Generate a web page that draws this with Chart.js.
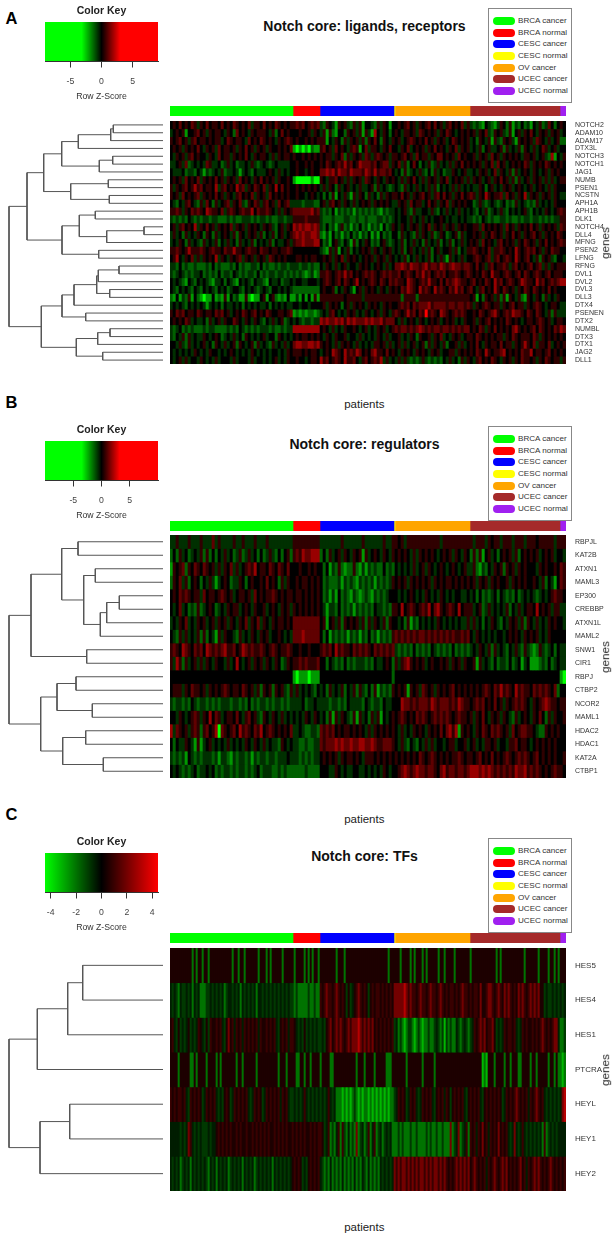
<!DOCTYPE html>
<html>
<head>
<meta charset="utf-8">
<script src="https://cdn.jsdelivr.net/npm/chart.js@4/dist/chart.umd.min.js"></script>
<style>
  html, body { margin: 0; padding: 0; background: #fff; }
  #page { position: relative; width: 615px; height: 1240px; overflow: hidden; font-family: "Liberation Sans", Arial, sans-serif; }
  canvas { position: absolute; display: block; }
  .txt { position: absolute; white-space: nowrap; transform: translate(-50%, -50%); line-height: 1; }
  .panel-tag { font-weight: bold; font-size: 16.5px; color: #000; transform: translate(0, -50%); }
  .main { font-weight: bold; font-size: 14px; color: #111; }
  .xlab { font-size: 11.5px; color: #222; }
  .ylab { font-size: 11.7px; color: #222; transform: translate(-50%, -50%) rotate(-90deg); }
  .legend { position: absolute; box-sizing: border-box; border: 1.5px solid #888; background: #fff; }
  .legend div { position: absolute; left: 29px; font-size: 8.1px; line-height: 1; color: #333; white-space: nowrap; transform: translateY(-50%); }
  .legend span { position: absolute; left: -25px; top: 50%; width: 22px; height: 8px; margin-top: -4px; border-radius: 4px; }
</style>
</head>
<body>
<div id="page"></div>
<script>
// side colour bar / legend
const groupNames = ['BRCA cancer', 'BRCA normal', 'CESC cancer', 'CESC normal', 'OV cancer', 'UCEC cancer', 'UCEC normal'];
const groupColors = ['#00ff00', '#ff0000', '#0000ff', '#ffff00', '#ffa500', '#a52a2a', '#a020f0'];
const groupSizes = [123, 27, 74, 1, 75, 90, 6];

const genesA = ['NOTCH2','ADAM10','ADAM17','DTX3L','NOTCH3','NOTCH1','JAG1','NUMB','PSEN1','NCSTN','APH1A','APH1B','DLK1','NOTCH4','DLL4','MFNG','PSEN2','LFNG','RFNG','DVL1','DVL2','DVL3','DLL3','DTX4','PSENEN','DTX2','NUMBL','DTX3','DTX1','JAG2','DLL1'];
const genesB = ['RBPJL','KAT2B','ATXN1','MAML3','EP300','CREBBP','ATXN1L','MAML2','SNW1','CIR1','RBPJ','CTBP2','NCOR2','MAML1','HDAC2','HDAC1','KAT2A','CTBP1'];
const genesC = ['HES5','HES4','HES1','PTCRA','HEYL','HEY1','HEY2'];

// dendrograms: [height, left, right], a number is a row
const treeA = [154,[136,[119.3,[101.3,[84.7,[52.3,[49.7,0,1],2],3],[63.7,[50.3,4,5],6]],[92.3,[54.7,7,8],[53.7,9,10]]],[101,[83.7,[67.7,11,12],[56.3,[19,13,14],15]],[64.3,16,17]]],[121.7,[101,[89,[66.3,[64.7,[44,18,19],20],[53.3,21,22]],23],[77.3,24,25]],[86.7,[65.3,[53,26,27],28],[60.3,29,30]]]];
const treeB = [154,[132,[101.3,[85,0,1],[79.3,[67.7,2,3],[62.7,[56.3,[43.7,4,5],6],7]]],[76.3,8,9]],[122.3,[106,[87,10,11],[70.7,12,13]],[100.3,[77.3,14,15],[59.7,16,17]]]];
const treeC = [154,[125.7,[95.3,[80.3,0,1],2],3],[123,[93.3,4,5],6]];

// heat levels per patient block: 1 (strong green) .. a 5 b .. 9 (strong red), groups split by |
const blocksAB = [41, 9, 25, 25, 30, 2];
const blocksC = [61, 14, 37, 38, 45, 3];

const heatA = [
'5657565764 6575665756 5765657466 57565765656|676756767|4365426564 3646255436 46525|5656756465 6757564675 65746|4343254324 6536243534 2546347535|65',
'4565625567 5646566546 5375654656 66546357565|556556465|4626325536 5646264285 46535|6546656476 5656465765 45656|5646574365 6436256465 7546564656|45',
'6567564675 6656566457 6566547565 76565465676|565565656|6625465364 6564636575 36546|5645676565 7564656457 65656|4536546264 3656426565 6476546456|33',
'5656465657 5465647566 5646575646 56465565657|212121322|6756475654 6762574665 46575|5465745656 4657565465 74656|4546356445 6364546365 4645764564|55',
'5465646756 5546547566 4656575465 66546465665|655656565|6566465736 4656476467 65646|6567564756 6465775656 47565|5646564756 4656565466 5645643825|46',
'4456473454 5476445346 4534454643 45434544445|565565655|6576567686 7568777675 67746|5746357535 4634645464 65756|5656465747 5645656576 4656576565|65',
'5444534435 4243454634 4542454354 44565464545|565545655|7787868776 8777687686 77675|4536345464 3536453446 54564|4546564574 6546364565 4654564656|55',
'5656475657 4656575646 5647565465 75656465565|211111211|6546675646 4656476546 54656|5464657546 4656465745 65646|4656456465 7564636456 4656464645|66',
'6465675686 7566584675 6586746576 57465857565|565656565|4646536456 4546445636 45434|5436454645 4646354546 46454|5446535645 4656456545 6456546465|55',
'6564756567 4656575646 5467565746 56475656565|565545654|5353625464 2646536453 64656|6575646567 5646757564 65756|7646586566 7475646584 6564656465|44',
'5435467543 6475364567 4657436576 46756475674|444344433|5646756465 4645656465 65654|4656475664 5756465746 56565|5346434543 4534364543 4364545465|55',
'6676465767 6587665746 7656766857 66765464656|777777867|4343524343 4243434343 24344|5456436445 5464354645 46454|5435463454 6435454564 3545465456|76',
'4343435434 3443443334 3433444343 44343344344|666676666|4333433344 3343343334 43434|5455464546 4545565454 45454|4343543433 4434334344 3443434344|66',
'5646756584 6575646565 7465646565 46564356465|878788787|4353424634 2435342434 25346|5465465646 5746564656 46565|5664756565 6475646565 7564656564|76',
'4645364546 5365364565 4636546564 63546356456|787877887|3242534243 5342435242 53435|5364543646 5463465345 63645|5656465765 6465756465 6756465657|65',
'4546536454 3645463546 4536454635 45463544564|677877788|5342564354 2635465343 56434|5463546453 6454635463 54645|6564756546 7565646576 5646575656|76',
'6676568666 7656766576 6866567665 76656656676|555555555|4326462546 3545656465 46564|5463564546 4635645564 63546|6765657466 7656586567 6756465766|55',
'5685465746 4656584654 6567465646 56476565655|566565665|5656465746 5654565646 56465|4546354645 4635464264 54645|5676567467 5676586567 5463656435|54',
'4435343343 3343534333 4353433443 53433434434|443443433|5465464564 5546565456 54645|7787687767 8677687678 77677|6575646756 6764675656 7567464656|66',
'4345434344 5343435344 3543434435 34344344343|434323423|6676567686 7565676765 67676|6756765768 6756767566 76567|6565765866 5676567576 5676567566|65',
'5454325435 4543244535 4325454354 43254453445|455445554|5676567576 5685656765 76576|7665876567 6866575767 87665|6756576586 7567656876 6586756767|88',
'5435454354 3545435453 4554354543 45435545454|333333333|5655635465 4256465654 65465|6576876586 7658676576 86756|7546756586 5765646576 5765657565|55',
'3252436253 2122523262 5342262122 56256323252|242525262|6666666656 6666466666 66666|6636666366 6666666666 66666|5625365646 3626546326 5465364546|55',
'4545435454 5424545354 4545354545 44535454544|554554555|5646565356 4656546565 46565|5676757677 7867777677 67767|6465676566 4656756646 5676545665|44',
'6576756657 6566576756 4565765675 65765566567|232323323|4546754546 5645465456 46546|7656867576 9676587656 76765|5657656786 5676877657 6576546364|44',
'5656576454 4536456465 5765465465 43546456345|454344344|8787787868 7877787877 86777|5464565465 4565645656 45465|5646567565 6576565456 6567656456|65',
'4345343433 3434433334 3435434343 44434334344|888888888|5654645465 5654564546 56456|7677676787 6767767767 67677|5657646575 6565786565 6757656576|87',
'4354636454 4654565345 4645365454 56455365454|565665656|5465465564 5546454546 54645|5645465365 5646574546 56456|6576565656 6465765666 5764656565|65',
'5546436454 5645365464 5636545636 45436454645|788778878|6565464656 5464545466 56464|5646456456 3646546355 64645|6575465665 7566465686 5746657456|56',
'5454545465 4546554545 6545454654 54545545465|666565665|4565876586 7687565786 65756|5465654656 5465645566 46565|6576586566 7856565766 8566567565|65',
'5456464554 6545464555 4645554645 54545645465|565545665|8675676586 6754675676 84645|4646434346 4343435464 53646|5467565765 4656465766 5646576566|46'
];

const heatB = [
'4464446444 6444746444 4644644464 44644444444|666666666|4444444644 4444644444 46446|6564666666 6666646666 66666|6466646566 4666466646 6656666646|66',
'3536453454 6363535464 5346346453 53464353563|676877888|3536456465 4656264565 46546|5656546465 6565456564 65465|3636256453 5656463565 6564565645|54',
'2656736576 5765646465 7464567685 66576576575|556556565|5352436323 3632424343 35343|5454546456 4654565456 54564|4632435465 6365646565 5546565565|76',
'3657463565 3546424565 3446535655 65756536465|565665656|5343334243 4324343424 34346|5656465656 5646565665 65656|5646564656 5564656565 5654635425|76',
'5657676566 4756656765 6456656475 65667656566|566565656|5342425343 2432343243 43455|5454565454 6545465454 55445|4535343453 5434353454 5434545676|65',
'5457453436 3456534546 5664565465 56456546564|656565656|5424435343 4243434354 43436|6585676567 6857865676 58566|6456346454 5463546456 6585656466|44',
'4546574546 5645646564 6546574657 46546566565|777777777|5625646365 6564636465 46365|5453624354 5454654545 45446|4645354654 3546564636 5464546565|54',
'5436464546 3635426465 5436454654 65645565454|777877777|5352434342 4342435342 43436|7676767677 6767676767 66767|5465454545 5456565465 6564546555|55',
'6765876576 7587676786 6756876766 76567656676|556556555|6767586766 5767676576 76767|4343435343 4354343435 34343|4546546364 5435464364 3236434535|44',
'6486364564 6465465546 4585456465 64654653465|667676667|5535434353 4344434354 45653|6467865656 4565565646 56465|5626454353 4435345245 2223435345|44',
'5555555555 5555555555 5555555555 55555555555|212221222|5555555555 5555555555 55553|5555555555 5555555555 55555|5555555555 5555555555 5555555555|21',
'5666465766 5646565676 5665765646 36563656436|464545435|4536454635 4636435362 43436|5656265647 6564656567 56565|6565676576 8676586766 5767676573|55',
'4344343543 4434343444 3443435343 44343443434|444534454|4443443435 4444354344 35445|5587767677 7687677767 68766|5676756575 6465676765 4656787665|66',
'5546545676 4658576456 6575467564 36546546454|545465465|4536264654 3626453646 25456|5676565767 6567676765 67665|6465754656 4654364565 4657536465|56',
'8476564676 3675681765 6758676576 85676565657|445433443|7676756566 5656546465 65656|5464546565 4656575786 82656|5465765767 6564756776 6543365656|55',
'5354465426 2456454546 4545465465 46454436545|443343344|7677787877 8778877876 67776|5464354354 6464554566 45564|5645466564 5546675665 4565656565|55',
'4343425434 3444342443 2434434243 44344344454|443434344|5656564656 6565466656 56565|6565656576 5676565656 67656|6567565756 5676567676 5675656565|56',
'5454343453 4454534344 3434434345 34443343433|333343333|5554465454 4554454545 46545|5678767877 6776578677 67767|8887878767 6767687786 7676565676|65'
];

const heatC = [
'bbbbbbbbbb b3b3bb3bb3 bbbbbbbbbb b3bb3bb3bb bbbb3bbb3b 3bbbbb3bbbb|b3bbbb3b3b3bb3|bbbbbbbb3bbb3 bbbbbbbbbbbbbbbbbbbbb 3bb|bbb3bbbb3b3bbb3b3bbbbb3bb3bbbb3bbbbbbb|3bbbbbbbbbbbb3b3bbbbbbbbbbb3bbbbbb3bbbb3bb3b3|bbb',
'a4a43a44a4 a3a4a33344 a4a4a4a34a a4a4a3a4a4 a4a3aa4a4a 4a4a4a4a4a4|43433333433433|6b6766b676 b6b4b4ab67 6b6b4b6b66 b6b6b6b|7777787676 6b6766b676 6b676b6b66 b6b6766b|6b66b7bb67 76b676b767 6b6b7676b6 76767bb4a4 4a4a4|a4a',
'b6a4b4a4ab 4a4a6ba4b4 6bb6b6a4b7 b6a6b6a6b6 b6b6a6bb6b 6b6a4b6b6a6|6ba4a4b4a4a4a4|4a4b67b676 76b6767778 7676767b6b 6b6b6b6|4a34323443 2343233433 4a43424343 3a434a43|4a6b6767b6 67b4a4a6b6 6b6a4a6b6b b6b6b676b6 b677a|334',
'bbbb3bbbbb 33b3bbbb3b bbb3b3bbbb bbb3bb3bbb bbb3bbbbbb bbbb3bbb3bb|bb33bb3bb3bbbb|3bbbb33bbb bbbbbbbb3b bb3bbbb3bb bbb333b|bbbbbb3bbb bbbb3bbbbb 3bbbbbbbbb bbbbbbbb|bbbbbb232b bb3bbbb3bb 3bbb33bbbb 3bb3bbbbb3 bb3b3|323',
'6b6b66b6a4 6b6b6b4a6b 6b6a4a4b6b 4a6b6b6b6a 4a6b6b4a6b 6b6b6a6b6a4|4a4a4a6a4a4a4a|4a4a6a4a33 3232323432 3233232323 2323233|4a6b6b4a6b 6a4a6b6b6a 4b6b6a6b4b 6b6b6a4b|6b6b6a4b6b 6b6b6b4a6b 6b676b6b6a 6b676b6a4a 4a4a4|a78',
'aaaaa4a4a7 6a4a4a444a 4aab6b6b6b 6bb6b6bb6b b6b6b6b6b6 bb6b6b6b6bb|6b6b6b6bb6b6b6|6b4a6343a6 3643a34373 4a3463a634 a34a4a3|3343433343 3433334343 3433433373 4a734a63|6b6a6b7b6a 6b6b7b6b6a 4a7a4a6a4a 4a4a4a3634 a4a4a|aaa',
'a4a4a34a4a 3a4a4a4a43 a4a3a4a4a3 4a4a4a3a4a 4a34a4a4a4 a3a4a4a4a4a|b6b6b4a4b6b6b6|a4343a3434 3a34343a34 3a43a34343 a4a4a4a|7676776767 6767767676 7767676b6b 67676767|b676b6b6a6 b676b6767b 6b6b67b6a6 b67676b6b6 76b6b|6b6'
];

// colour key: axis range, saturation points, ticks
const keyRangeA = [-9.1, 9.1], keyStopsA = [-3.2, 3], keyTicksA = [-5, 0, 5];
const keyRangeB = [-10, 10], keyStopsB = [-3.5, 3.2], keyTicksB = [-5, 0, 5];
const keyRangeC = [-4.45, 4.45], keyStopsC = [-4.45, 4.45], keyTicksC = [-4, -2, 0, 2, 4];

const LEVELS = { '1': -5.4, '2': -3.2, '3': -2, '4': -1, a: -0.5, '5': 0, b: 0.5, '6': 1, '7': 2, '8': 3.2, '9': 5.4 };

const page = document.getElementById('page');
Chart.defaults.font.family = '"Liberation Sans", Arial, sans-serif';

function addCanvas(left, top, w, h) {
  const c = document.createElement('canvas');
  c.width = w; c.height = h;
  c.style.left = left + 'px';
  c.style.top = top + 'px';
  c.style.width = w + 'px';
  c.style.height = h + 'px';
  page.appendChild(c);
  return c;
}

function addText(cls, text, x, y) {
  const d = document.createElement('div');
  d.className = 'txt ' + cls;
  d.textContent = text;
  d.style.left = x + 'px';
  d.style.top = y + 'px';
  page.appendChild(d);
}

const base = { responsive: false, animation: false, devicePixelRatio: 1, plugins: { legend: { display: false }, tooltip: { enabled: false } } };

// paint black behind the cells so row seams do not show white
const blackBack = {
  id: 'blackBack',
  beforeDatasetsDraw(chart) {
    const a = chart.chartArea;
    chart.ctx.fillStyle = '#000';
    chart.ctx.fillRect(a.left, a.top, a.width, a.height);
  }
};

function cellColor(level, unit, sat) {
  const t = Math.min(1, Math.abs(level * unit) / sat);
  const v = Math.round(t * 255);
  return level < 0 ? `rgb(0,${v},0)` : `rgb(${v},0,0)`;
}

function decodeRow(str, blocks) {
  const parts = str.split('|').map(p => p.replace(/ /g, ''));
  let out = [];
  blocks.forEach((n, i) => {
    const p = parts[i].padEnd(n, '5').slice(0, n);
    out = out.concat(p.split('').map(ch => LEVELS[ch]));
  });
  return out;
}

function drawHeat(rows, genes, blocks, unit, sat, top, height, fontSize) {
  const grid = rows.map(r => decodeRow(r, blocks));
  const labels = grid[0].map((_, i) => i + 1);
  new Chart(addCanvas(170, top, 445, height), {
    type: 'bar',
    data: {
      labels,
      datasets: grid.map((row, r) => ({
        label: genes[r],
        data: row.map(() => [r, r + 1]),
        backgroundColor: row.map(v => cellColor(v, unit, sat)),
        borderWidth: 0,
        barPercentage: 1,
        categoryPercentage: 1,
        grouped: false
      }))
    },
    options: {
      ...base,
      scales: {
        x: { display: false, grid: { display: false } },
        y: {
          position: 'right',
          reverse: true,
          min: 0,
          max: genes.length,
          border: { display: false },
          grid: { display: false, drawTicks: false },
          afterBuildTicks: s => { s.ticks = genes.map((_, i) => ({ value: i + 0.5 })); },
          afterFit: s => { s.width = 49; s.paddingTop = 0; s.paddingBottom = 0; },
          ticks: {
            autoSkip: false,
            padding: 9,
            color: '#333',
            font: { size: fontSize },
            callback: v => genes[v - 0.5]
          }
        }
      }
    },
    plugins: [blackBack]
  });
}

function drawStrip(top) {
  new Chart(addCanvas(170, top, 396, 10), {
    type: 'bar',
    data: {
      labels: ['group'],
      datasets: groupSizes.map((n, i) => ({
        label: groupNames[i],
        data: [n],
        backgroundColor: groupColors[i],
        borderWidth: 0,
        barPercentage: 1,
        categoryPercentage: 1
      }))
    },
    options: {
      ...base,
      indexAxis: 'y',
      scales: {
        x: { display: false, stacked: true, min: 0, max: 396 },
        y: { display: false, stacked: true }
      }
    }
  });
}

function linksOf(node, out) {
  if (typeof node === 'number') return { h: 0, y: node + 0.5 };
  const a = linksOf(node[1], out), b = linksOf(node[2], out);
  out.push([{ x: a.h, y: a.y }, { x: node[0], y: a.y }, { x: node[0], y: b.y }, { x: b.h, y: b.y }]);
  return { h: node[0], y: (a.y + b.y) / 2 };
}

function drawTree(tree, n, top, height) {
  const links = [];
  linksOf(tree, links);
  new Chart(addCanvas(0, top, 163, height), {
    type: 'scatter',
    data: {
      datasets: links.map(pts => ({ data: pts, showLine: true, pointRadius: 0, borderColor: '#555', borderWidth: 1, tension: 0 }))
    },
    options: {
      ...base,
      scales: {
        x: { display: false, reverse: true, min: 0, max: 163 },
        y: { display: false, reverse: true, min: 0, max: n }
      }
    }
  });
}

function drawKey(range, stops, ticks, boxTop) {
  const boxH = 39;
  new Chart(addCanvas(25, boxTop - 18, 153, 18 + boxH + 41), {
    type: 'bar',
    data: {
      labels: ['key'],
      datasets: [{
        data: [range],
        barPercentage: 1,
        categoryPercentage: 1,
        borderWidth: 0,
        backgroundColor(ctx) {
          const { chart } = ctx;
          if (!chart.chartArea) return '#000';
          const x = chart.scales.x;
          const l = x.getPixelForValue(range[0]), r = x.getPixelForValue(range[1]);
          const g = chart.ctx.createLinearGradient(l, 0, r, 0);
          const pos = v => (x.getPixelForValue(v) - l) / (r - l);
          g.addColorStop(0, '#00ff00');
          g.addColorStop(pos(stops[0]), '#00ff00');
          g.addColorStop(pos(0), '#000000');
          g.addColorStop(pos(stops[1]), '#ff0000');
          g.addColorStop(1, '#ff0000');
          return g;
        }
      }]
    },
    options: {
      ...base,
      indexAxis: 'y',
      layout: { padding: { left: 20, right: 20, top: 0, bottom: 0 } },
      plugins: {
        ...base.plugins,
        title: { display: true, text: 'Color Key', color: '#222', font: { size: 10.5, weight: 'bold' }, padding: { top: 0.5, bottom: 5 } }
      },
      scales: {
        x: {
          min: range[0],
          max: range[1],
          border: { color: '#333' },
          grid: { drawOnChartArea: false, tickLength: 6.5, color: '#333' },
          afterBuildTicks: s => { s.ticks = ticks.map(v => ({ value: v })); },
          afterFit: s => { s.height = 41; },
          ticks: { autoSkip: false, maxRotation: 0, padding: 9, color: '#444', font: { size: 8.7 } },
          title: { display: true, text: 'Row Z-Score', color: '#333', font: { size: 8.7 }, padding: 0 }
        },
        y: { display: false }
      }
    }
  });
}

function drawLegend(top) {
  const box = document.createElement('div');
  box.className = 'legend';
  box.style.cssText = `left:488px;top:${top}px;width:84px;height:94.5px;`;
  groupNames.forEach((name, i) => {
    const row = document.createElement('div');
    row.style.top = (12 + i * 11.67) + 'px';
    row.textContent = name;
    const sw = document.createElement('span');
    sw.style.background = groupColors[i];
    row.appendChild(sw);
    box.appendChild(row);
  });
  page.appendChild(box);
}

function drawPanel(p) {
  addText('panel-tag', p.tag, 5.5, p.tagY);
  addText('main', p.title, 364.5, p.titleY);
  drawKey(p.keyRange, p.keyStops, p.keyTicks, p.keyTop);
  drawLegend(p.legendTop);
  drawStrip(p.stripTop);
  drawTree(p.tree, p.genes.length, p.top, 243);
  drawHeat(p.rows, p.genes, p.blocks, p.unit, p.sat, p.top, 243, p.labelSize);
  addText('ylab', 'genes', 605, p.top + 121.5);
  addText('xlab', 'patients', 364.3, p.xlabY);
}

drawPanel({ tag: 'A', title: 'Notch core: ligands, receptors', tagY: 18, titleY: 25.7, keyTop: 22, legendTop: 8, stripTop: 106, top: 121, keyRange: keyRangeA, keyStops: keyStopsA, keyTicks: keyTicksA, tree: treeA, genes: genesA, rows: heatA, blocks: blocksAB, unit: 0.6, sat: 3.2, labelSize: 7, xlabY: 404.8 });
drawPanel({ tag: 'B', title: 'Notch core: regulators', tagY: 401.7, titleY: 443.7, keyTop: 441, legendTop: 426, stripTop: 521, top: 535, keyRange: keyRangeB, keyStops: keyStopsB, keyTicks: keyTicksB, tree: treeB, genes: genesB, rows: heatB, blocks: blocksAB, unit: 0.6, sat: 3.2, labelSize: 7, xlabY: 819.5 });
drawPanel({ tag: 'C', title: 'Notch core: TFs', tagY: 814.4, titleY: 856, keyTop: 853, legendTop: 838, stripTop: 933, top: 948, keyRange: keyRangeC, keyStops: keyStopsC, keyTicks: keyTicksC, tree: treeC, genes: genesC, rows: heatC, blocks: blocksC, unit: 1.0, sat: 4.45, labelSize: 8, xlabY: 1228 });
</script>
</body>
</html>
